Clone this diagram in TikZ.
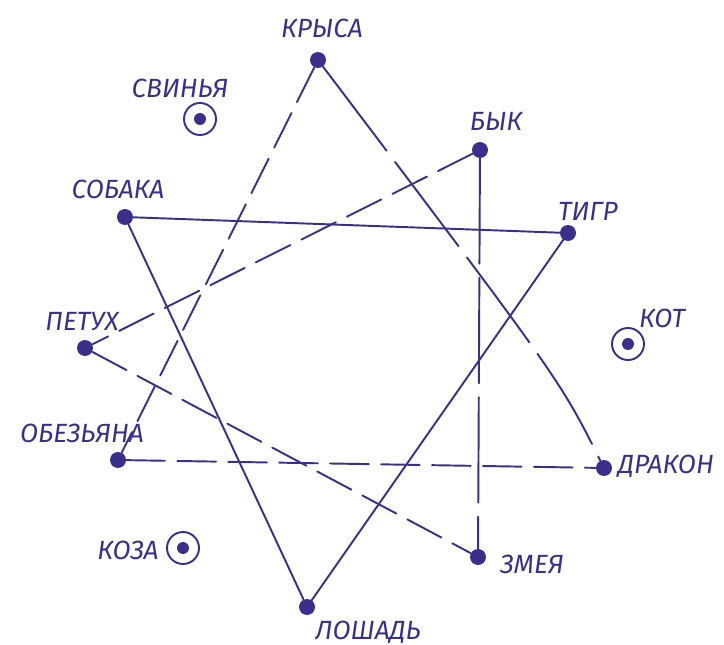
\documentclass[tikz,border=0pt]{standalone}
\usepackage{fontspec}
\setmainfont{Fira Sans}
\usepackage{tikz}
\usetikzlibrary{positioning}
\definecolor{ink}{RGB}{58,48,140}
\tikzset{
  dot/.style={circle,fill=ink,inner sep=0pt,minimum size=3.2mm},
  ring/.style={circle,draw=ink,line width=1.1pt,inner sep=0pt,minimum size=6.4mm},
  lbl/.style={text=ink,font=\itshape\fontsize{15}{17}\selectfont},
  ln/.style={draw=ink,line width=1.1pt,line cap=round},
  dsh/.style={ln,dash pattern=on 22pt off 7pt},
  lng/.style={ln,dash pattern=on 60pt off 8pt},
}
\begin{document}
\begin{tikzpicture}[x=0.02cm,y=-0.02cm]
  \useasboundingbox (0,0) rectangle (724,645);
  % points of the star
  \node[dot] (rat) at (318,60) {};
  \node[dot] (ox) at (480,150) {};
  \node[dot] (dog) at (125,217) {};
  \node[dot] (tiger) at (568,233) {};
  \node[dot] (rooster) at (85,348) {};
  \node[dot] (monkey) at (118,460) {};
  \node[dot] (dragon) at (604,468) {};
  \node[dot] (snake) at (478,557) {};
  \node[dot] (horse) at (307,607) {};
  % lonely ones
  \node[dot,minimum size=2.4mm] (pig) at (200,119) {};
  \node[ring] (pigring) at (200,119) {};
  \node[dot,minimum size=2.4mm] (cat) at (628,344) {};
  \node[ring] (catring) at (628,344) {};
  \node[dot,minimum size=2.4mm] (goat) at (183,548) {};
  \node[ring] (goatring) at (183,548) {};
  % names
  \node[lbl] (ratlbl) at (322,28) {КРЫСА};
  \node[lbl] (piglbl) at (180,88) {СВИНЬЯ};
  \node[lbl] (oxlbl) at (496,121) {БЫК};
  \node[lbl] (doglbl) at (118,189) {СОБАКА};
  \node[lbl] (tigerlbl) at (588,211) {ТИГР};
  \node[lbl] (roosterlbl) at (82,322) {ПЕТУХ};
  \node[lbl] (catlbl) at (662,318) {КОТ};
  \node[lbl] (monkeylbl) at (82,433) {ОБЕЗЬЯНА};
  \node[lbl] (dragonlbl) at (666,466) {ДРАКОН};
  \node[lbl] (goatlbl) at (128,550) {КОЗА};
  \node[lbl] (snakelbl) at (532,564) {ЗМЕЯ};
  \node[lbl] (horselbl) at (368,632) {ЛОШАДЬ};
  % dog - tiger - horse
  \draw[ln] (dog) -- (tiger) -- (horse) -- (dog);
  % rat - monkey - dragon
  \draw[dsh] (rat) -- (monkey);
  \draw[dsh] (monkey) -- (dragon);
  \draw[lng] (rat) .. controls (560,380) .. (dragon);
  % ox - rooster - snake
  \draw[lng] (ox) -- (snake);
  \draw[dsh] (ox) -- (rooster);
  \draw[dsh] (rooster) -- (snake);
\end{tikzpicture}
\end{document}
